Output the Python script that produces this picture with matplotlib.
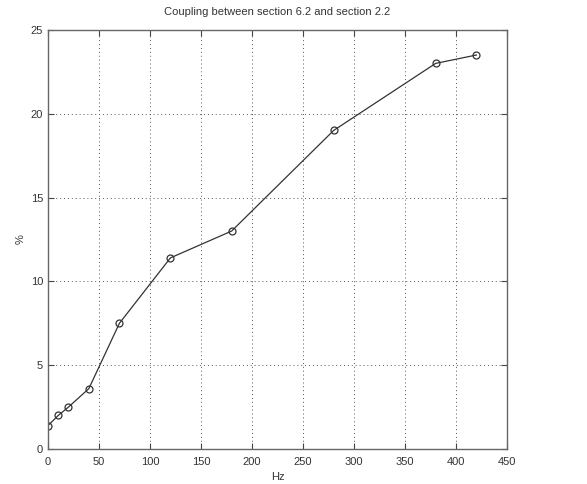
import matplotlib
matplotlib.use("Agg")
import matplotlib.pyplot as plt

# coupling measurements
freq_hz = [0, 10, 20, 40, 70, 120, 180, 280, 380, 420]
coupling_pct = [1.4, 2.0, 2.5, 3.6, 7.5, 11.4, 13.0, 19.0, 23.0, 23.5]

x_ticks = [0, 50, 100, 150, 200, 250, 300, 350, 400, 450]
y_ticks = [0, 5, 10, 15, 20, 25]

plt.rcParams["font.family"] = ["Liberation Sans", "DejaVu Sans"]

fig = plt.figure(figsize=(5.87, 4.84), dpi=100)
ax = fig.add_axes([0.0818, 0.0723, 0.782, 0.866])

ax.plot(freq_hz, coupling_pct, color="#333333", linewidth=0.9,
        marker="o", markersize=5, markerfacecolor="none",
        markeredgecolor="#333333", markeredgewidth=0.9)

ax.set_xlim(0, 450)
ax.set_ylim(0, 25)
ax.set_xticks(x_ticks)
ax.set_yticks(y_ticks)
ax.tick_params(direction="in", top=True, right=True, length=4,
               labelsize=8, colors="#444444", labelcolor="#333333")
ax.tick_params(axis="x", pad=6)
ax.grid(True, linestyle=(0, (1, 3)), color="#555555", linewidth=0.7)
for s in ax.spines.values():
    s.set_color("#666666")
    s.set_linewidth(1.0)

ax.set_title("Coupling between section 6.2 and section 2.2", fontsize=8,
             color="#333333", pad=11)
ax.set_xlabel("Hz", fontsize=8, color="#333333", labelpad=3)
ax.set_ylabel("%", fontsize=8, color="#333333", labelpad=4)

fig.savefig("out.png", dpi=100)
